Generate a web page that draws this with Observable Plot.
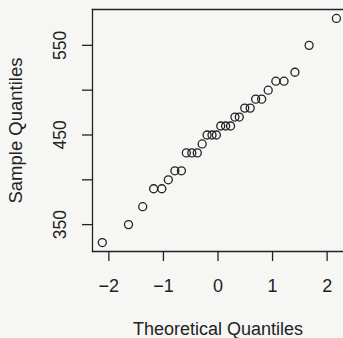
<!DOCTYPE html>
<html>
<head>
<meta charset="utf-8">
<script src="https://cdn.jsdelivr.net/npm/d3@7"></script>
<script src="https://cdn.jsdelivr.net/npm/@observablehq/plot@0.6"></script>
<style>
  html, body { margin: 0; padding: 0; background: #f6f6f4; }
</style>
</head>
<body>
<div id="chart"></div>
<script>
const theoretical = [-2.12, -1.64, -1.38, -1.18, -1.03, -0.91, -0.79, -0.67, -0.58, -0.48,
  -0.38, -0.29, -0.20, -0.11, -0.03, 0.05, 0.14, 0.23, 0.31, 0.39,
  0.49, 0.59, 0.69, 0.80, 0.92, 1.06, 1.21, 1.41, 1.67, 2.17];
const sample = [330, 350, 370, 390, 390, 400, 410, 410, 430, 430,
  430, 440, 450, 450, 450, 460, 460, 460, 470, 470,
  480, 480, 490, 490, 500, 510, 510, 520, 550, 580];
const xTicks = [-2, -1, 0, 1, 2];
const xTickLabels = ["\u22122", "\u22121", "0", "1", "2"];
const yTicks = [350, 400, 450, 500, 550];
const yLabelTicks = [350, 450, 550];
const xTitle = "Theoretical Quantiles";
const yTitle = "Sample Quantiles";

const points = theoretical.map((t, i) => ({t, s: sample[i]}));
const ink = "#222";

const chart = Plot.plot({
  width: 343,
  height: 338,
  marginLeft: 92,
  marginTop: 9,
  marginBottom: 87,
  marginRight: 0,
  style: {background: "#f6f6f4", fontFamily: "'Liberation Sans', Arial, sans-serif", color: ink},
  x: {domain: [-2.3, 2.3]},
  y: {domain: [320, 590]},
  marks: [
    Plot.frame({anchor: "top", stroke: ink, strokeWidth: 1.3}),
    Plot.frame({anchor: "left", stroke: ink, strokeWidth: 1.3}),
    Plot.frame({anchor: "bottom", stroke: ink, strokeWidth: 1.3}),
    Plot.axisX(xTicks, {tickSize: 10, tickFormat: () => "", label: null, stroke: ink, strokeWidth: 1.3}),
    Plot.axisY(yTicks, {tickSize: 10, tickFormat: () => "", label: null, stroke: ink, strokeWidth: 1.3}),
    Plot.text(xTicks, {x: d => d, text: (d, i) => xTickLabels[i], frameAnchor: "bottom", dy: 35, lineAnchor: "middle", fontSize: 18, fill: ink}),
    Plot.text(yLabelTicks, {y: d => d, text: d => String(d), frameAnchor: "left", dx: -32, rotate: -90, textAnchor: "middle", lineAnchor: "middle", fontSize: 17.5, fill: ink}),
    Plot.text([xTitle], {text: d => d, x: 0, frameAnchor: "bottom", dy: 78, lineAnchor: "middle", fontSize: 18, fill: ink}),
    Plot.text([yTitle], {text: d => d, y: 455, frameAnchor: "left", dx: -76, rotate: -90, textAnchor: "middle", lineAnchor: "middle", fontSize: 18.5, fill: ink}),
    Plot.dot(points, {x: "t", y: "s", r: 4, stroke: ink, strokeWidth: 1.3, fill: "none"})
  ]
});
document.getElementById("chart").appendChild(chart);
</script>
</body>
</html>
